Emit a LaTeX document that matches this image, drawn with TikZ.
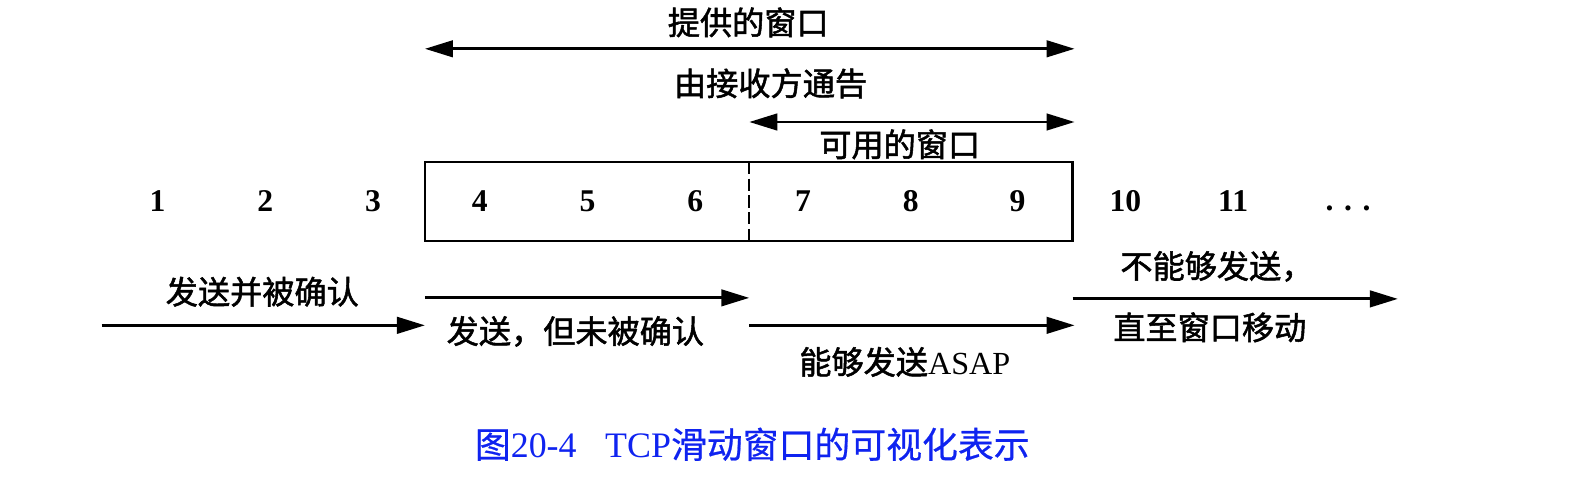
\documentclass[tikz,border=0pt]{standalone}
\usepackage{fontspec}
\setmainfont{Liberation Serif}
\newfontfamily\cjk[RawFeature={embolden=1.6}]{Noto Sans CJK SC}
\newfontfamily\cjkcap[RawFeature={embolden=0.6}]{Noto Sans CJK SC}
\usetikzlibrary{arrows.meta}
\definecolor{capblue}{RGB}{15,35,240}
\tikzset{
  ar/.style={line width=1.6pt,-{Triangle[length=0.56cm,width=0.33cm]}},
  dar/.style={line width=1.6pt,{Triangle[length=0.56cm,width=0.33cm]}-{Triangle[length=0.56cm,width=0.33cm]}},
  lbl/.style={font=\cjk\fontsize{18.3}{20}\selectfont, inner sep=0pt},
  num/.style={font=\bfseries\fontsize{18}{20}\selectfont, inner sep=0pt},
  captxt/.style={font=\fontsize{20.4}{24}\selectfont, text=capblue, inner sep=0pt}
}
\begin{document}
\begin{tikzpicture}[x=0.02033cm,y=-0.02033cm]
\useasboundingbox (0,0) rectangle (1564,484);
% window box
\node[draw, line width=1.4pt, minimum width=12.95cm, minimum height=1.586cm, inner sep=0pt] (win) at (736.5,198.2) {};
\coordinate (dtop) at (737,159.3);
\coordinate (dbot) at (737,237);
\draw[line width=1.4pt, dash pattern=on 7pt off 2.5pt] (dtop) -- (dbot);
% numbers
\foreach \n/\x in {1/155,2/261,3/367,4/472,5/578,6/684,7/790,8/896,9/1001,10/1107,11/1213}
  \node[num] (n\n) at (\x,198) {\n};
\node[num, anchor=base] (ndots) at (1326,207) {.\,\,.\,\,.};
% top labels and arrows
\node[lbl] (offered) at (736,22) {提供的窗口};
\coordinate (a1l) at (418,48);
\coordinate (a1r) at (1057,48);
\draw[dar] (a1l) -- (a1r);
\node[lbl] (adv) at (758,82) {由接收方通告};
\coordinate (a2l) at (737,120);
\coordinate (a2r) at (1057,120);
\draw[dar] (a2l) -- (a2r);
\node[lbl] (usable) at (885,142) {可用的窗口};
% bottom arrows
\node[lbl] (sa) at (258,287) {发送并被确认};
\coordinate (b1l) at (100,320);
\coordinate (b1r) at (418,320);
\draw[ar] (b1l) -- (b1r);
\coordinate (b2l) at (418,293);
\coordinate (b2r) at (737,293);
\draw[ar] (b2l) -- (b2r);
\node[lbl] (sna) at (566,326) {发送，但未被确认};
\coordinate (b3l) at (737,320);
\coordinate (b3r) at (1057,320);
\draw[ar] (b3l) -- (b3r);
\node[lbl] (asap) at (890,356) {能够发送{\rmfamily ASAP}};
\node[lbl] (cant) at (1197,262) {不能够发送，};
\coordinate (b4l) at (1055,294);
\coordinate (b4r) at (1375,294);
\draw[ar] (b4l) -- (b4r);
\node[lbl] (until) at (1190,322) {直至窗口移动};
% caption
\node[captxt] (caption) at (740,437) {{\cjkcap 图}20-4\hspace{0.8em}TCP{\cjkcap 滑动窗口的可视化表示}};
\end{tikzpicture}
\end{document}
